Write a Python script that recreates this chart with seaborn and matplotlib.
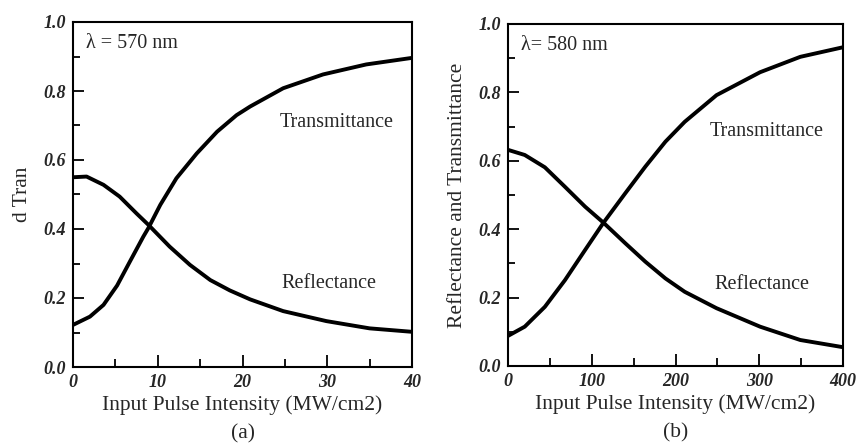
import numpy as np
import pandas as pd
import matplotlib
matplotlib.use("Agg")
import matplotlib.pyplot as plt
import seaborn as sns
from matplotlib.ticker import MultipleLocator

# Panel (a), lambda = 570 nm
xa_t = [0, 2, 3.6, 5.2, 6.7, 8.3, 8.9, 10.3, 12.2, 14.6, 17, 19.3, 20.9, 24.8, 29.5, 34.6, 40]
ta = [0.122, 0.146, 0.180, 0.236, 0.305, 0.378, 0.403, 0.470, 0.547, 0.619, 0.682, 0.730,
      0.755, 0.808, 0.848, 0.877, 0.896]
xa_r = [0, 1.6, 3.6, 5.5, 7.5, 8.9, 11.4, 13.8, 16.2, 18.5, 20.9, 24.8, 29.9, 35, 40]
ra = [0.550, 0.552, 0.528, 0.494, 0.445, 0.412, 0.349, 0.296, 0.252, 0.222, 0.196, 0.162,
      0.133, 0.112, 0.102]

# Panel (b), lambda = 580 nm
xb = [0, 20, 44, 68, 92, 114, 140, 164, 188, 211, 249, 301, 349, 400]
tb = [0.088, 0.115, 0.173, 0.251, 0.339, 0.419, 0.505, 0.583, 0.656, 0.714, 0.792, 0.859, 0.904, 0.932]
rb = [0.632, 0.617, 0.581, 0.524, 0.466, 0.419, 0.359, 0.305, 0.256, 0.217, 0.169, 0.115, 0.076, 0.055]

xlabel = "Input Pulse Intensity (MW/cm2)"
ylabel_a = "d Tran"
ylabel_b = "Reflectance and Transmittance"
lam_a = "λ = 570 nm"
lam_b = "λ= 580 nm"

sns.set_style("ticks")
plt.rcParams['font.family'] = ['Liberation Serif', 'DejaVu Serif']

fig = plt.figure(figsize=(8.56, 4.43), dpi=100)
W, H = 856, 443
ax1 = fig.add_axes([73 / W, 1 - 367 / H, (412 - 73) / W, (367 - 22) / H])
ax2 = fig.add_axes([508 / W, 1 - 366 / H, (843 - 508) / W, (366 - 24) / H])

def make_df(xt, t, xr, r):
    return pd.concat([
        pd.DataFrame({"x": xt, "y": t, "s": "Transmittance"}),
        pd.DataFrame({"x": xr, "y": r, "s": "Reflectance"}),
    ], ignore_index=True)

panels = [
    (ax1, make_df(xa_t, ta, xa_r, ra), 40, 10, 5, ylabel_a, lam_a, (31.1, 0.709), (30.2, 0.243), "(a)"),
    (ax2, make_df(xb, tb, xb, rb), 400, 100, 50, ylabel_b, lam_b, (309, 0.687), (303, 0.239), "(b)"),
]

for ax, df, xmax, xmaj, xmin, ylab, lam, tpos, rpos, tag in panels:
    sns.lineplot(data=df, x="x", y="y", units="s", estimator=None, color="black",
                 linewidth=2.8, ax=ax, legend=False, sort=True)
    ax.set_xlim(0, xmax)
    ax.set_ylim(0, 1.0)
    ax.xaxis.set_major_locator(MultipleLocator(xmaj))
    ax.xaxis.set_minor_locator(MultipleLocator(xmin))
    ax.yaxis.set_major_locator(MultipleLocator(0.2))
    ax.yaxis.set_minor_locator(MultipleLocator(0.1))
    ax.tick_params(which="both", direction="in", top=False, right=False, width=1.3, color="black")
    ax.tick_params(axis="x", which="major", length=9, pad=5)
    ax.tick_params(axis="x", which="minor", length=6)
    ax.tick_params(axis="y", which="major", length=8, pad=5)
    ax.tick_params(axis="y", which="minor", length=5)
    ax.set_xticks(ax.get_xticks())
    ax.set_xticklabels([f"{v:g}" for v in ax.get_xticks()], fontstyle="italic",
                       fontweight="bold", fontsize=13)
    ax.set_yticks(ax.get_yticks())
    ax.set_yticklabels([f"{v:.1f}" for v in ax.get_yticks()], fontstyle="italic",
                       fontweight="bold", fontsize=13)
    ax.set_xlim(0, xmax)
    ax.set_ylim(0, 1.0)
    for sp in ax.spines.values():
        sp.set_linewidth(1.5)
        sp.set_color("black")
    ax.set_xlabel(xlabel, fontsize=15.5, labelpad=3)
    ax.set_ylabel(ylab, fontsize=15.5, labelpad=8)
    ax.text(0.038, 0.937, lam, transform=ax.transAxes, fontsize=14.5, ha="left", va="center")
    ax.text(tpos[0], tpos[1], "Transmittance", fontsize=14.5, ha="center", va="center")
    ax.text(rpos[0], rpos[1], "Reflectance", fontsize=14.5, ha="center", va="center")
    ax.text(0.5, -0.195, tag, transform=ax.transAxes, fontsize=15.5, ha="center", va="center")

fig.savefig("out.png", dpi=100)
